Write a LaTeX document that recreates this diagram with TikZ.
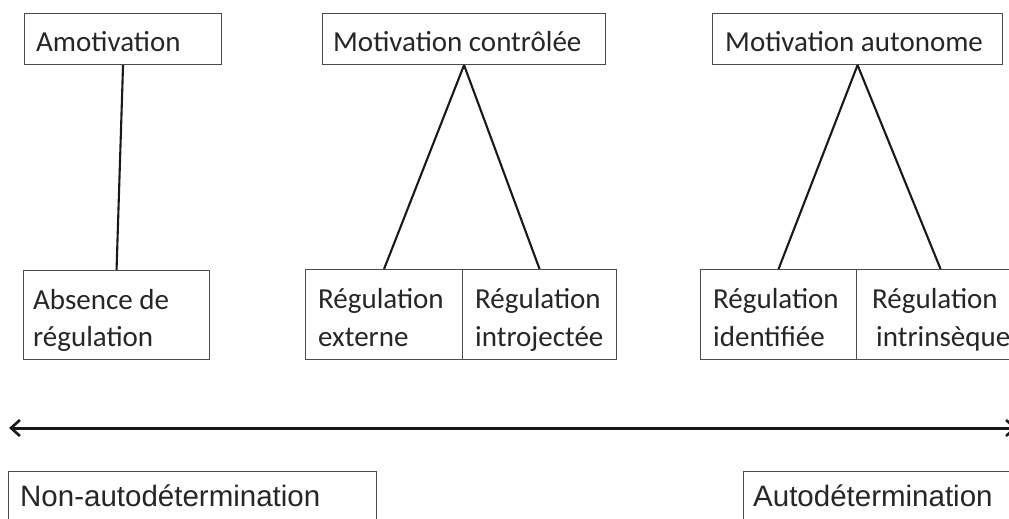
\documentclass[tikz,border=0pt]{standalone}
\usepackage{fontspec}
\setmainfont{Carlito}
\newfontfamily\arialf{Liberation Sans}
\usetikzlibrary{arrows.meta}
\begin{document}
\begin{tikzpicture}[x=1pt,y=-1pt,
  box/.style={draw=black!70, line width=1.1pt, inner sep=0pt, anchor=north west},
  txt/.style={anchor=base west, inner sep=0pt, font=\fontsize{29}{37}\selectfont, text=black!85},
  txtb/.style={anchor=base west, inner sep=0pt, font=\arialf\fontsize{29.5}{35}\selectfont, text=black!85},
  link/.style={line width=2.1pt, black!90},
  contarrow/.style={line width=3pt, black!90, {Straight Barb[length=9pt,width=16pt,line width=2.6pt]}-{Straight Barb[length=9pt,width=16pt,line width=2.6pt]}}]
\useasboundingbox (0,0) rectangle (1009,519);
% top boxes
\node[box, minimum width=197pt, minimum height=51pt] (amo) at (24,13) {};
\node[box, minimum width=283pt, minimum height=51pt] (mc) at (322,13) {};
\node[box, minimum width=290pt, minimum height=51pt] (ma) at (712,13) {};
\node[txt] (tamo) at (36,52) {Amotivation};
\node[txt] (tmc) at (333,52) {Motivation contrôlée};
\node[txt] (tma) at (725,52) {Motivation autonome};
% bottom boxes
\node[box, minimum width=186pt, minimum height=89pt] (abs) at (23,270) {};
\node[box, minimum width=157pt, minimum height=90pt] (ext) at (305,269) {};
\node[box, minimum width=154pt, minimum height=90pt] (intro) at (462,269) {};
\node[box, minimum width=156pt, minimum height=90pt] (ide) at (700,269) {};
\node[box, minimum width=168pt, minimum height=90pt] (intr) at (856,269) {};
\node[txt] (tabs1) at (33,309) {Absence de};
\node[txt] (tabs2) at (33,346) {régulation};
\node[txt] (text1) at (318,308) {Régulation};
\node[txt] (text2) at (318,346) {externe};
\node[txt] (tint1) at (475,308) {Régulation};
\node[txt] (tint2) at (475,346) {introjectée};
\node[txt] (tide1) at (713,308) {Régulation};
\node[txt] (tide2) at (713,346) {identifiée};
\node[txt] (tintr1) at (872,308) {Régulation};
\node[txt] (tintr2) at (876,346) {intrinsèque};
% connectors
\draw[link] (amo.south) -- (abs.north);
\draw[link] (mc.south) -- (ext.north);
\draw[link] (mc.south) -- (intro.north);
\draw[link] (ma.south) -- (ide.north);
\draw[link] (ma.south) -- (intr.north);
% continuum arrow
\coordinate (left) at (9,428);
\coordinate (right) at (1017,428);
\draw[contarrow] (left) -- (right);
% bottom labels
\node[box, minimum width=368pt, minimum height=70pt] (nonauto) at (8,471) {};
\node[box, minimum width=290pt, minimum height=70pt] (auto) at (743,471) {};
\node[txtb] (tnon) at (20,506) {Non-autodétermination};
\node[txtb] (tauto) at (753,506) {Autodétermination};
\end{tikzpicture}
\end{document}
